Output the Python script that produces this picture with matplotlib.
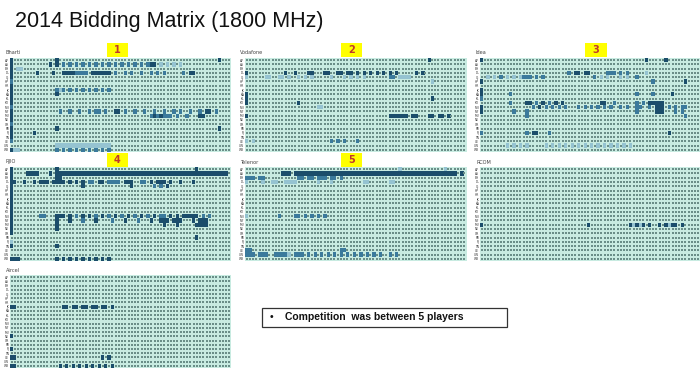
import numpy as np
import matplotlib
matplotlib.use('Agg')
import matplotlib.pyplot as plt
from matplotlib.colors import ListedColormap
from matplotlib.patches import Rectangle

W, H = 700, 370
N_ROWS, N_COLS = 22, 68

circles = ['AP', 'AS', 'BH', 'DL', 'GJ', 'HP', 'HR', 'JK', 'KA', 'KL', 'KO',
           'MH', 'MP', 'MU', 'NE', 'OR', 'PB', 'RJ', 'TN', 'UE', 'UW', 'WB']

# one string per circle: "col" or "start-end" followed by level a (light), b (mid), c (dark)
bharti = [
    "0c 14c 64c",
    "0c 12c 14c 16b 18b 20b 22b 24b 26b 28b 30b 32b 34b 36b 38b 40b 42b 43c 44c 46a 48a 50a 52a",
    "0c 2a 3a",
    "0c 8c 13c 16-19c 20-23b 25-30c 32b 35b 37b 40b 43b 45b 47b 53b 55-56c",
    "0c",
    "0b",
    "0c",
    "0c 14b 15a 16b 18b 20b 22b 24b 26b 28b 30b",
    "0c 14c",
    "0c",
    "0c",
    "0b",
    "0c 15b 18b 21b 24b 26-27b 29b 32-33c 35b 38b 41b 44b 47b 50b 52b 55b 58b 60-61c 63b",
    "0c 43-49b 44c 46c 51b 54b 58-59c",
    "0c",
    "0b",
    "0c 14c 64c",
    "0c 7c",
    "0c",
    "0b",
    "14-30a",
    "0c 1a 2a 14b 16b 18b 20b 22b 24b 26b 28b 30b",
]

vodafone = [
    "56c",
    "",
    "",
    "0c 12c 15c 19-20c 24-25c 28-29c 31-32c 34c 36c 38c 40c 42c 44c 46c 52c 54c",
    "0a 6-7a 10-11a 13a 16a 18a 20a 26a 30a 32a 34a 36a 44-45b 47-50a",
    "57a",
    "",
    "",
    "0c",
    "0c 57c",
    "0c 16c",
    "22a 23a",
    "",
    "0c 44-46c 47-49c 51-52c 56-57c 59-60c 62c",
    "",
    "",
    "",
    "",
    "",
    "0a 2a 26b 28b 30b 34b",
    "",
    "",
]

idea = [
    "0c 51c 57c",
    "",
    "",
    "27b 29-30c 32-33c 39-41b 43b 45b 51a",
    "2a 4a 6b 8a 10a 12a 13-15b 17b 19b 35b 37a 39a 43a 45a 48b",
    "0c 53b 63c",
    "",
    "0c",
    "0c 9b 48b 53b 59c",
    "0b",
    "9b 14-15c 17b 19c 21b 23c 25c 37-38c 41b 48b 50b 52-56c",
    "0c 16b 18c 20b 22b 24b 26b 30b 32b 34b 36b 38b 40b 43b 45b 48-49b 52b 54-56c 58b 60b 62b 63b",
    "0c 10b 14b 48b 54-56c 60b 62b",
    "14b 63b",
    "",
    "",
    "",
    "0b 14b 16-17c 21b 58c",
    "",
    "",
    "8a 10a 12a 14a 20a 22a 24a 26a 28a 30a 32a 34a 36a 38a 40a 42a 44a 46a",
    "",
]

rjio = [
    "0c 14c 57c",
    "0c 5-8c 12c 14-66c",
    "0c 14-15c",
    "0c 1c 4c 7c 9-11c 13-16c 18c 20c 22c 24-25b 27-28c 30-33b 35-37c 40-41b 43c 45-47c 49c 52c 56c",
    "0c 22c 37c 44b 46b 48c",
    "0c",
    "0c",
    "0c",
    "0c",
    "0c",
    "0c",
    "0c 9b 10b 14-16c 18c 20b 22c 24c 26b 28c 30b 32c 34b 36c 38b 40c 42b 44c 46-47b 49c 51c 53-54c 55-57c 59b 61b",
    "0c 14c 18c 22b 26c 31b 35c 39b 43c 46-48c 50-52c 56c 58-60c",
    "0c 14c 47c 51c 57-60c",
    "0c 14c",
    "0c",
    "57c",
    "0a",
    "0c 14c",
    "",
    "",
    "0-2c 14c 16c 18c 20c 22c 24c 26c 28c 30c",
]

telenor = [
    "47a 61a",
    "11-13c 15-64c 66c",
    "0-2b 4-5b 16-17b 19-20b 22-23b 24b 26-27b 29b",
    "0a 5a 8-9a 12-15a 22a 26a 36a 37a 44-45a",
    "",
    "",
    "",
    "",
    "",
    "",
    "",
    "0a 10b 15-16b 18b 20b 22b 24b",
    "",
    "",
    "",
    "",
    "",
    "",
    "",
    "0-1b 29b 30b",
    "0-2b 4-6b 9-12b 13a 15-16b 17b 19b 21b 23b 25b 27b 29b 31b 33b 35b 37b 39b 41b 44b 46b",
    "",
]

rcom = [""] * 13 + ["0c 33c 46c 47a 48c 49a 50c 52c 55c 57c 58a 59-60c 62c"] + [""] * 8

aircel = [
    "", "", "", "", "", "", "",
    "0-1c 16-17c 19-20c 22-23c 25-26c 28-29c 31c",
    "", "", "", "", "", "",
    "0c",
    "", "",
    "0c",
    "",
    "0-1c 28c 30c",
    "",
    "0-1c 15c 17c 19c 21c 23c 25c 27c 29c 31c",
]

LEVELS = {'a': 1, 'b': 2, 'c': 3}
cmap = ListedColormap(['#c8ebe1', '#95c3d1', '#3b7a9c', '#1b4d6b'])


def parse(rows):
    m = np.zeros((N_ROWS, N_COLS))
    for r, spec in enumerate(rows):
        for tok in spec.split():
            lvl = LEVELS[tok[-1]]
            rng = tok[:-1]
            if '-' in rng:
                a, b = map(int, rng.split('-'))
            else:
                a = b = int(rng)
            m[r, a:b + 1] = lvl
    return m


def px_box(x0, y0, x1, y1):
    # pixel box (top-left origin) -> figure fraction [left, bottom, width, height]
    return [x0 / W, 1 - y1 / H, (x1 - x0) / W, (y1 - y0) / H]


panels = [
    ('Bharti', bharti, (10, 58, 231, 152), ('1', (107, 43, 128, 57)), (5, 53)),
    ('Vodafone', vodafone, (245, 58, 466, 152), ('2', (341, 43, 362, 57)), (240, 53)),
    ('Idea', idea, (480, 58, 700, 152), ('3', (585, 43, 607, 57)), (475, 53)),
    ('RJIO', rjio, (10, 167, 231, 261), ('4', (107, 153, 128, 167)), (6, 162)),
    ('Telenor', telenor, (245, 167, 466, 261), ('5', (341, 153, 362, 167)), (240, 162)),
    ('RCOM', rcom, (480, 167, 700, 261), None, (477, 162)),
    ('Aircel', aircel, (10, 275, 231, 368), None, (6, 270)),
]

fig = plt.figure(figsize=(7, 3.7), dpi=100)
fig.patch.set_facecolor('white')

fig.text(15 / W, 1 - 22 / H, '2014 Bidding Matrix (1800 MHz)', fontsize=15.5,
         family='Liberation Sans', va='center', ha='left', color='#111111')

for name, rows, box, badge, lab in panels:
    m = parse(rows)
    ax = fig.add_axes(px_box(*box))
    ax.imshow(m, cmap=cmap, vmin=0, vmax=3, aspect='auto', interpolation='nearest')
    ys, xs = np.where(m == 0)
    ax.scatter(xs, ys, s=0.7, marker='s', c='#6a8e88', linewidths=0)
    ax.set_xlim(-0.5, N_COLS - 0.5)
    ax.set_ylim(N_ROWS - 0.5, -0.5)
    ax.set_xticks([])
    ax.set_yticks(range(N_ROWS))
    ax.set_yticklabels(circles, fontsize=2.2, color='#333333')
    ax.tick_params(axis='y', length=0, pad=0.6)
    for s in ax.spines.values():
        s.set_visible(False)
    fig.text(lab[0] / W, 1 - lab[1] / H, name, fontsize=3.6, color='#444444',
             va='center', ha='left')
    if badge:
        num, (bx0, by0, bx1, by1) = badge
        fig.patches.append(Rectangle((bx0 / W, 1 - by1 / H), (bx1 - bx0) / W, (by1 - by0) / H,
                                     transform=fig.transFigure, facecolor='#ffff00',
                                     edgecolor='none', zorder=5))
        fig.text((bx0 + bx1) / 2 / W, 1 - (by0 + by1) / 2 / H, num, fontsize=7,
                 fontweight='bold', color='#c0392b', ha='center', va='center', zorder=6)

# note box
fig.patches.append(Rectangle((262 / W, 1 - 327 / H), 245 / W, 19 / H,
                             transform=fig.transFigure, facecolor='white',
                             edgecolor='#333333', linewidth=0.9))
fig.text(270 / W, 1 - 317.5 / H, '\u2022', fontsize=7.5, ha='left', va='center',
         family='Liberation Sans', color='#111111')
fig.text(285 / W, 1 - 317.5 / H, 'Competition  was between 5 players', fontsize=7.5,
         fontweight='bold', family='Liberation Sans', ha='left', va='center', color='#111111')

fig.savefig('out.png', dpi=100)
